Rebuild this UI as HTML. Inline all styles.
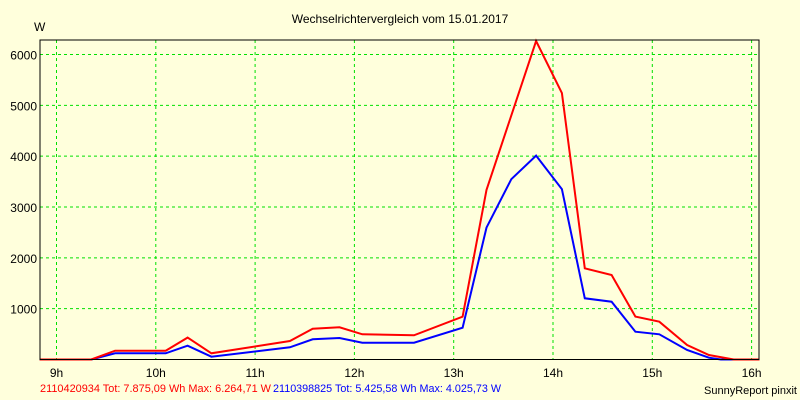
<!DOCTYPE html>
<html><head><meta charset="utf-8"><style>
html,body{margin:0;padding:0;background:#ffffdc;}
svg{display:block;font-family:"Liberation Sans",sans-serif;}
</style></head><body>
<svg id="chart" width="800" height="400" viewBox="0 0 800 400" xmlns="http://www.w3.org/2000/svg">
<rect x="0" y="0" width="800" height="400" fill="#ffffdc"/>
<text x="400" y="23" font-size="12" text-anchor="middle" fill="#000">Wechselrichtervergleich vom 15.01.2017</text>
<text x="34" y="31" font-size="12" fill="#000">W</text>
<g id="grid"></g>
<g id="ylabels"></g>
<g id="xlabels"></g>
<g id="series"></g>
<rect x="40" y="40" width="719" height="319.5" fill="none" stroke="#000" stroke-width="1"/>
<text x="40" y="392" font-size="11" fill="#ff0000" textLength="231" lengthAdjust="spacingAndGlyphs">2110420934 Tot: 7.875,09 Wh Max: 6.264,71 W</text>
<text x="273" y="392" font-size="11" fill="#0000ff" textLength="228" lengthAdjust="spacingAndGlyphs">2110398825 Tot: 5.425,58 Wh Max: 4.025,73 W</text>
<text x="797" y="394" font-size="11" fill="#000" text-anchor="end">SunnyReport pinxit</text>
</svg>
<script>
const yTicks = [1000, 2000, 3000, 4000, 5000, 6000];
const xTicks = [9, 10, 11, 12, 13, 14, 15, 16];
const xTickLabels = ["9h", "10h", "11h", "12h", "13h", "14h", "15h", "16h"];
const redTimes = [8.83, 9.35, 9.59, 10.10, 10.32, 10.56, 11.35, 11.58, 11.85, 12.08, 12.60, 13.09, 13.33, 13.83, 14.09, 14.32, 14.59, 14.83, 15.07, 15.35, 15.57, 15.82, 16.08];
const redWatts = [0, 0, 173, 173, 430, 122, 364, 606, 634, 496, 476, 842, 3337, 6265, 5240, 1795, 1663, 843, 744, 285, 89, 0, 0];
const blueTimes = [8.83, 9.35, 9.59, 10.10, 10.32, 10.56, 11.35, 11.58, 11.85, 12.08, 12.60, 13.09, 13.33, 13.58, 13.83, 14.09, 14.32, 14.59, 14.83, 15.07, 15.35, 15.57, 15.69, 15.82];
const blueWatts = [0, 0, 122, 122, 272, 55, 240, 397, 423, 330, 330, 626, 2594, 3547, 4012, 3350, 1204, 1138, 547, 496, 187, 35, 0, 0];

const NS = "http://www.w3.org/2000/svg";
const plotL = 40, plotR = 759, plotT = 40, plotB = 359.5;
function xPos(h){ return 56.5 + (h - 9) * 99.3; }
function yPos(w){ return 359.5 - w * (305 / 6000); }

const grid = document.getElementById("grid");
yTicks.forEach(v => {
  const l = document.createElementNS(NS, "line");
  l.setAttribute("x1", plotL); l.setAttribute("x2", plotR);
  l.setAttribute("y1", yPos(v)); l.setAttribute("y2", yPos(v));
  l.setAttribute("stroke", "#00e000"); l.setAttribute("stroke-dasharray", "3,3");
  
  
  grid.appendChild(l);
  const t = document.createElementNS(NS, "text");
  t.setAttribute("x", 37); t.setAttribute("y", yPos(v) + 5);
  t.setAttribute("font-size", "12"); t.setAttribute("text-anchor", "end");
  t.textContent = String(v);
  
  
  document.getElementById("ylabels").appendChild(t);
});
xTicks.forEach((h, i) => {
  const l = document.createElementNS(NS, "line");
  l.setAttribute("x1", xPos(h)); l.setAttribute("x2", xPos(h));
  l.setAttribute("y1", plotT); l.setAttribute("y2", plotB);
  l.setAttribute("stroke", "#00e000"); l.setAttribute("stroke-dasharray", "3,3");
  
  
  grid.appendChild(l);
  const t = document.createElementNS(NS, "text");
  t.setAttribute("x", xPos(h)); t.setAttribute("y", 377);
  t.setAttribute("font-size", "12"); t.setAttribute("text-anchor", "middle");
  t.textContent = xTickLabels[i];
  
  
  document.getElementById("xlabels").appendChild(t);
});
function drawLine(times, watts, color, name){
  const p = document.createElementNS(NS, "polyline");
  p.setAttribute("points", times.map((h, i) => xPos(h).toFixed(1) + "," + yPos(watts[i]).toFixed(1)).join(" "));
  p.setAttribute("fill", "none"); p.setAttribute("stroke", color);
  p.setAttribute("stroke-width", "2"); p.setAttribute("stroke-linejoin", "miter");
  
  
  document.getElementById("series").appendChild(p);
}
drawLine(blueTimes, blueWatts, "#0000ff", "series-2110398825");
drawLine(redTimes, redWatts, "#ff0000", "series-2110420934");
</script>
</body></html>
